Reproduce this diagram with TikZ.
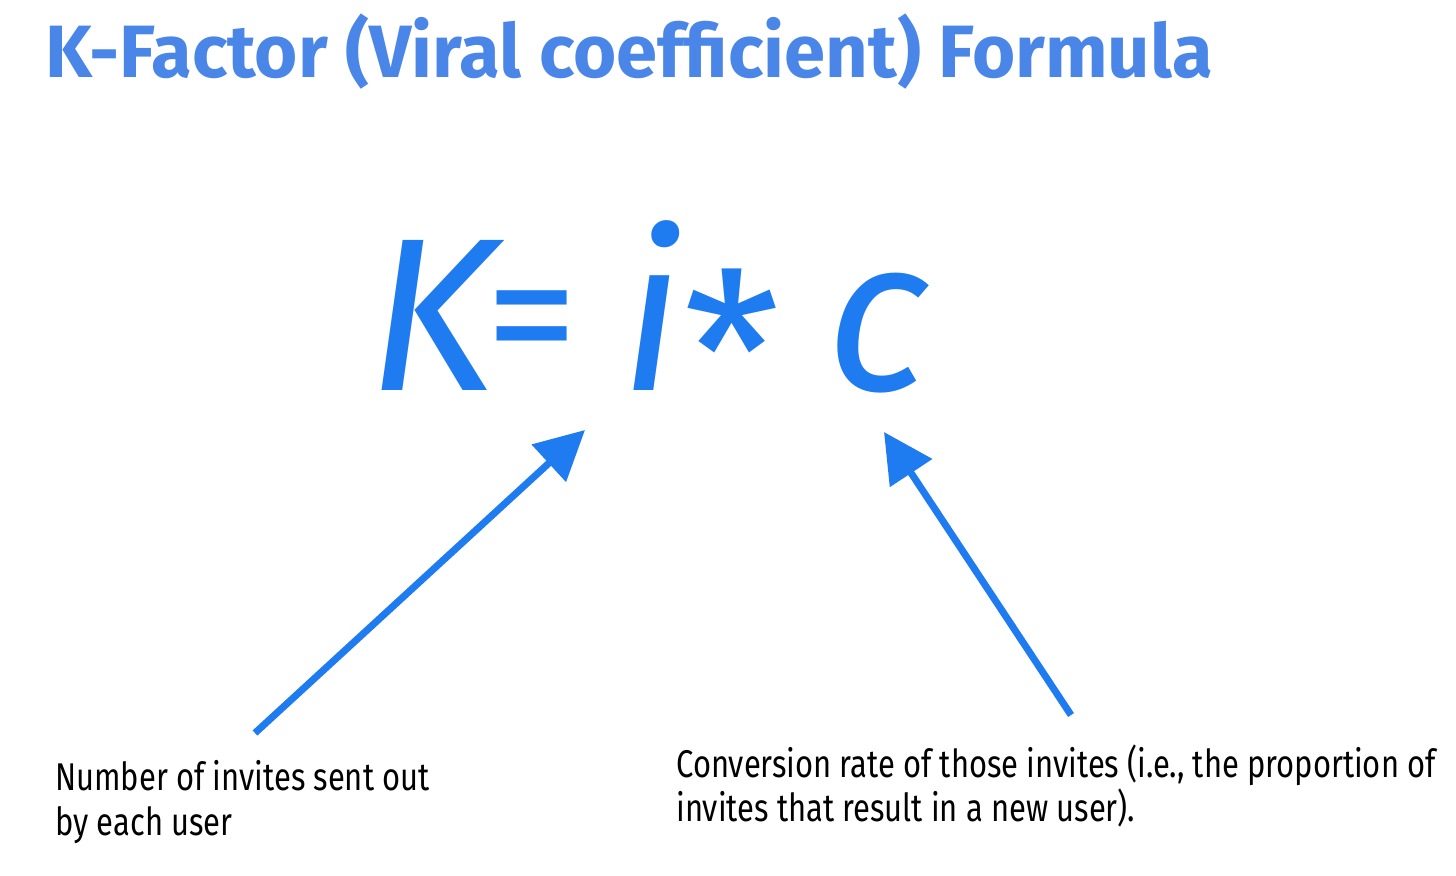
\documentclass[tikz,border=0pt]{standalone}
\usepackage{fontspec}
\setmainfont{Fira Sans}
\usetikzlibrary{arrows.meta}
\definecolor{titleblue}{HTML}{4A86E8}
\definecolor{fblue}{HTML}{1E7BF0}
\tikzset{
  sym/.style={text=fblue,font=\fontsize{124}{124}\selectfont\itshape,inner sep=0pt,anchor=base},
  lbl/.style={font=\fontsize{22}{25.5}\selectfont,align=left,anchor=north west,inner sep=0pt,xscale=0.80},
  arr/.style={draw=fblue,line width=4pt,-{Triangle[length=28pt,width=28pt]}}
}
\begin{document}
\begin{tikzpicture}[x=0.02cm,y=-0.02cm]
\useasboundingbox (0,0) rectangle (1456,875);
\node[anchor=base west,inner sep=0pt,text=titleblue,font=\fontsize{42.2}{42.2}\selectfont\bfseries] (title) at (45,78) {K-Factor (Viral coefficient) Formula};
\node[sym] (K) at (432,390) {K};
\node[sym,font=\fontsize{106}{106}\selectfont] (eq) at (532,377) {=};
\node[sym] (i) at (652,390) {i};
\node[sym,font=\fontsize{126}{126}\selectfont] (ast) at (732,432) {*};
\node[sym] (c) at (878,390) {c};
\node[lbl] (l1) at (55,760) {Number of invites sent out\\by each user};
\node[lbl] (l2) at (676,744) {Conversion rate of those invites (i.e., the proportion of\\invites that result in a new user).};
\coordinate (a1s) at (255,733);
\coordinate (a1e) at (585,430);
\coordinate (a2s) at (1071,715);
\coordinate (a2e) at (884,432);
\draw[arr] (a1s) -- (a1e);
\draw[arr] (a2s) -- (a2e);
\end{tikzpicture}
\end{document}
